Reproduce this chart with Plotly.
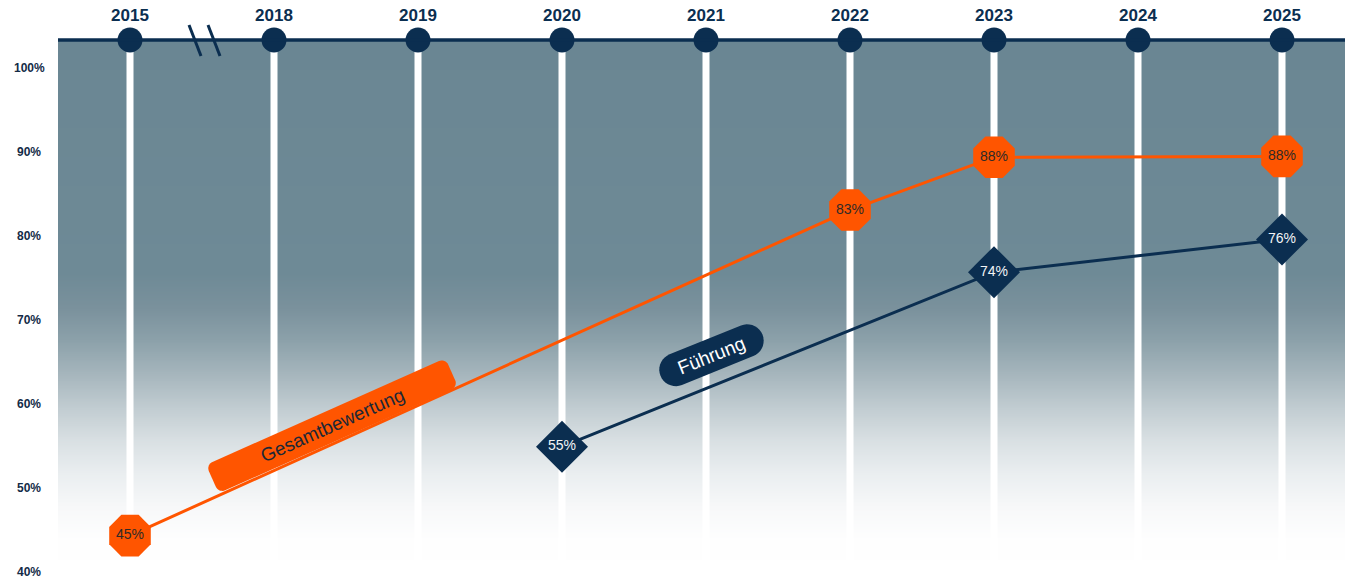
import numpy as np
import plotly.graph_objects as go

# ---------------- data ----------------
years = ["2015", "2018", "2019", "2020", "2021", "2022", "2023", "2024", "2025"]

gesamt_years = ["2015", "2022", "2023", "2025"]
gesamt_values = [44.3, 83.1, 89.4, 89.5]
gesamt_labels = ["45%", "83%", "88%", "88%"]

fuehrung_years = ["2020", "2023", "2025"]
fuehrung_values = [54.9, 75.7, 79.6]
fuehrung_labels = ["55%", "74%", "76%"]

y_ticks = [40, 50, 60, 70, 80, 90, 100]
y_ticktext = ["40%", "50%", "60%", "70%", "80%", "90%", "100%"]

series_names = ["Gesamtbewertung", "Führung"]

# ---------------- styling / geometry ----------------
W, H = 1345, 580
ML, MR, MT, MB = 58, 0, 40, 0
XMIN, XMAX = -0.5, 8.4375
YMIN, YMAX = 39.01, 103.37
NAVY = "#0b2e50"
ORANGE = "#ff5500"
FONT = "Liberation Sans, Arial, sans-serif"

idx = {y: i for i, y in enumerate(years)}
PW, PH = W - ML - MR, H - MT - MB


def to_px(x, y):
    return (ML + (x - XMIN) / (XMAX - XMIN) * PW,
            MT + (YMAX - y) / (YMAX - YMIN) * PH)


def to_data(px, py):
    return (XMIN + (px - ML) / PW * (XMAX - XMIN),
            YMAX - (py - MT) / PH * (YMAX - YMIN))


def pill_path(cx_d, cy_d, L, Hh, r, ang):
    cx, cy = to_px(cx_d, cy_d)
    t = np.radians(ang)
    d = (np.cos(t), -np.sin(t))
    p = (np.sin(t), np.cos(t))
    corners = [(L / 2 - r, Hh / 2 - r, 0, 90), (-(L / 2 - r), Hh / 2 - r, 90, 180),
               (-(L / 2 - r), -(Hh / 2 - r), 180, 270), (L / 2 - r, -(Hh / 2 - r), 270, 360)]
    pts = []
    for ux, vy, a0, a1 in corners:
        for a in np.linspace(a0, a1, 10):
            u = ux + r * np.cos(np.radians(a))
            v = vy + r * np.sin(np.radians(a))
            pts.append(to_data(cx + u * d[0] + v * p[0], cy + u * d[1] + v * p[1]))
    return "M " + " L ".join(f"{x:.5f},{y:.5f}" for x, y in pts) + " Z"


# background gradient (value -> colour)
grad_stops = [(YMIN, "#ffffff"), (43.8, "#fefefe"), (47.7, "#f7f8f9"), (51.7, "#eaeef0"),
              (55.6, "#d9e0e3"), (59.6, "#c1ccd1"), (63.7, "#a5b5bc"), (67.6, "#8ca1aa"),
              (71.5, "#7a919c"), (75.6, "#6e8a96"), (YMAX, "#6a8693")]
colorscale = [[(v - YMIN) / (YMAX - YMIN), c] for v, c in grad_stops]
bg_y = np.linspace(YMIN, YMAX, 300)
bg_z = [[v, v] for v in bg_y]

fig = go.Figure()

fig.add_trace(go.Heatmap(x=[XMIN, XMAX], y=bg_y, z=bg_z, colorscale=colorscale,
                         zmin=YMIN, zmax=YMAX, zsmooth="best", showscale=False,
                         hoverinfo="skip"))

# white vertical year lines
gx, gy = [], []
for y in years:
    gx += [idx[y], idx[y], None]
    gy += [YMIN, YMAX, None]
fig.add_trace(go.Scatter(x=gx, y=gy, mode="lines", line=dict(color="white", width=7),
                         hoverinfo="skip", showlegend=False))

# series
fig.add_trace(go.Scatter(
    x=[idx[y] for y in gesamt_years], y=gesamt_values, mode="lines+markers+text",
    name=series_names[0], text=gesamt_labels, textposition="middle center",
    textfont=dict(family=FONT, size=14, color="#2e2a28"),
    line=dict(color=ORANGE, width=3),
    marker=dict(symbol="octagon", size=45, color=ORANGE, line=dict(width=0)),
    hoverinfo="skip", showlegend=False, cliponaxis=False))

fig.add_trace(go.Scatter(
    x=[idx[y] for y in fuehrung_years], y=fuehrung_values, mode="lines+markers+text",
    name=series_names[1], text=fuehrung_labels, textposition="middle center",
    textfont=dict(family=FONT, size=14, color="#f2f4f6"),
    line=dict(color=NAVY, width=3),
    marker=dict(symbol="diamond", size=40, color=NAVY, line=dict(width=0)),
    hoverinfo="skip", showlegend=False, cliponaxis=False))

# timeline circles on top
fig.add_trace(go.Scatter(
    x=[idx[y] for y in years], y=[YMAX] * len(years), mode="markers",
    marker=dict(size=25, color=NAVY, line=dict(width=0)),
    hoverinfo="skip", showlegend=False, cliponaxis=False))

shapes = [
    dict(type="line", xref="paper", yref="paper", x0=0, x1=1, y0=1, y1=1,
         line=dict(color=NAVY, width=3.5), layer="above"),
]
# axis break marks
for px0 in (189, 208):
    x0p, x1p = (px0 - ML) / PW, (px0 + 12 - ML) / PW
    shapes.append(dict(type="line", xref="paper", yref="paper",
                       x0=x0p, x1=x1p, y0=(H - 25) / PH, y1=(H - 56) / PH,
                       line=dict(color=NAVY, width=3), layer="above"))

# series label pills
pill_specs = [
    (series_names[0], 1.403, 57.4, 262, 31, 7, 24, ORANGE, "#1c2836"),
    (series_names[1], 4.038, 65.8, 110, 33, 16.5, 22, NAVY, "#ffffff"),
]
annotations = []
for name, cx, cy, L, Hh, r, ang, fill, tcol in pill_specs:
    shapes.append(dict(type="path", xref="x", yref="y", path=pill_path(cx, cy, L, Hh, r, ang),
                       fillcolor=fill, line=dict(width=0), layer="above"))
    annotations.append(dict(x=cx, y=cy, xref="x", yref="y", text=name, showarrow=False,
                            textangle=-ang, xanchor="center", yanchor="middle",
                            font=dict(family=FONT, size=19, color=tcol)))

for v, t in zip(y_ticks, y_ticktext):
    annotations.append(dict(x=(29 - ML) / PW, y=v, xref="paper", yref="y", text=t,
                            showarrow=False, xanchor="center", yanchor="middle",
                            font=dict(family=FONT, size=12, color="#132b47", weight=700)))

fig.update_layout(
    width=W, height=H, margin=dict(l=ML, r=MR, t=MT, b=MB, pad=0),
    paper_bgcolor="white", plot_bgcolor="white",
    xaxis=dict(range=[XMIN, XMAX], side="top", tickvals=list(range(len(years))),
               ticktext=years, ticks="", showgrid=False, zeroline=False, showline=False,
               tickfont=dict(family=FONT, size=17, color=NAVY, weight=700),
               ticklabelstandoff=15, fixedrange=True),
    yaxis=dict(range=[YMIN, YMAX], showticklabels=False, showgrid=False, zeroline=False,
               showline=False, fixedrange=True),
    shapes=shapes, annotations=annotations, showlegend=False,
)

fig.write_html("out.html", config={"displayModeBar": False},
               post_script="document.body.style.margin='0';document.body.style.overflow='hidden';")
